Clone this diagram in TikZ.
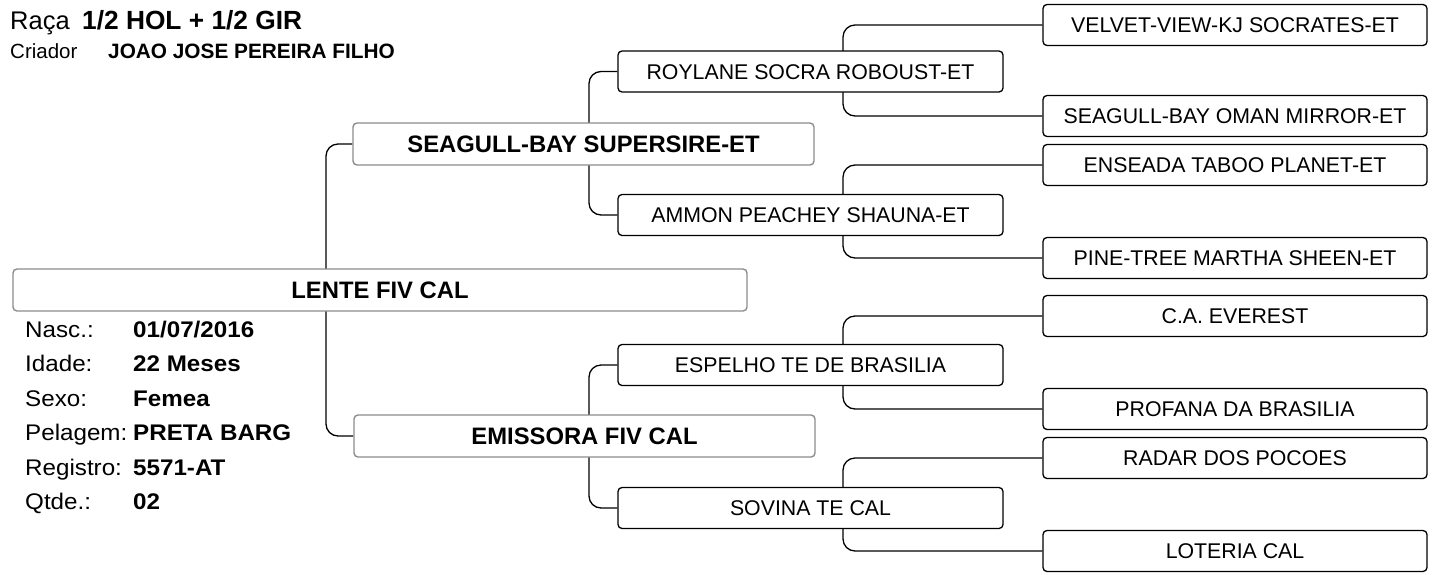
\documentclass[tikz,border=0pt]{standalone}
\usepackage{fontspec}
\setmainfont{Liberation Sans}
\newfontfamily\infofont{Liberation Sans}[FakeStretch=1.07]
\usetikzlibrary{backgrounds}
\definecolor{pgray}{RGB}{140,140,140}
\tikzset{
  conn/.style={draw=black, line width=1.3pt, rounded corners=12pt},
  gbox/.style={draw=black, fill=white, line width=1.3pt, rounded corners=4pt,
    minimum width=385pt, minimum height=41pt, inner sep=0pt,
    text height=15pt, text depth=0pt, font=\fontsize{21.3}{24}\selectfont},
  pbox/.style={draw=pgray, fill=white, line width=1.4pt, rounded corners=4pt,
    minimum height=42pt, inner sep=0pt, text height=17pt, text depth=0pt,
    font=\fontsize{23.8}{26}\selectfont\bfseries},
  lbl/.style={anchor=base west, inner sep=0pt, font=\infofont\fontsize{22.6}{24}\selectfont},
  val/.style={anchor=base west, inner sep=0pt, font=\infofont\fontsize{22.6}{24}\selectfont\bfseries},
}
\begin{document}
\begin{tikzpicture}[x=1pt,y=-1pt]
\useasboundingbox (0,0) rectangle (1434,574);
\coordinate (x1) at (326,0);
\coordinate (x2) at (589,0);
\coordinate (x3) at (843,0);
% header
\node[anchor=base west, inner sep=0pt, font=\fontsize{25.5}{28}\selectfont] (raca) at (10,29) {Raça};
\node[anchor=base west, inner sep=0pt, font=\fontsize{26.3}{28}\selectfont\bfseries] (racav) at (82,29) {1/2 HOL + 1/2 GIR};
\node[anchor=base west, inner sep=0pt, font=\fontsize{20.5}{24}\selectfont] (criador) at (10,58) {Criador};
\node[anchor=base west, inner sep=0pt, font=\fontsize{20.8}{24}\selectfont\bfseries] (criadorv) at (108,58) {JOAO JOSE PEREIRA FILHO};
% info
\node[lbl] (l1) at (25,337) {Nasc.:};
\node[val] (v1) at (133,337) {01/07/2016};
\node[lbl] (l2) at (25,371.5) {Idade:};
\node[val] (v2) at (133,371.5) {22 Meses};
\node[lbl] (l3) at (25,406) {Sexo:};
\node[val] (v3) at (133,406) {Femea};
\node[lbl] (l4) at (25,440.5) {Pelagem:};
\node[val] (v4) at (133,440.5) {PRETA BARG};
\node[lbl] (l5) at (25,475) {Registro:};
\node[val] (v5) at (133,475) {5571-AT};
\node[lbl] (l6) at (25,509.5) {Qtde.:};
\node[val] (v6) at (133,509.5) {02};
% boxes
\node[pbox, minimum width=734pt] (lente) at (380,290) {LENTE FIV CAL};
\node[pbox, minimum width=461pt] (sire) at (583.5,144) {SEAGULL-BAY SUPERSIRE-ET};
\node[pbox, minimum width=461pt] (dam) at (584.5,436) {EMISSORA FIV CAL};
\node[gbox] (roy) at (810.5,71.5) {ROYLANE SOCRA ROBOUST-ET};
\node[gbox] (amm) at (810.5,215) {AMMON PEACHEY SHAUNA-ET};
\node[gbox] (esp) at (810.5,365) {ESPELHO TE DE BRASILIA};
\node[gbox] (sov) at (810.5,508) {SOVINA TE CAL};
\node[gbox, minimum width=384pt] (vel) at (1235,25) {VELVET-VIEW-KJ SOCRATES-ET};
\node[gbox, minimum width=384pt] (oma) at (1235,116) {SEAGULL-BAY OMAN MIRROR-ET};
\node[gbox, minimum width=384pt] (ens) at (1235,165) {ENSEADA TABOO PLANET-ET};
\node[gbox, minimum width=384pt] (pin) at (1235,258) {PINE-TREE MARTHA SHEEN-ET};
\node[gbox, minimum width=384pt] (eve) at (1235,316) {C.A. EVEREST};
\node[gbox, minimum width=384pt] (pro) at (1235,409) {PROFANA DA BRASILIA};
\node[gbox, minimum width=384pt] (rad) at (1235,458) {RADAR DOS POCOES};
\node[gbox, minimum width=384pt] (lot) at (1235,551) {LOTERIA CAL};
% connectors (behind boxes)
\begin{scope}[on background layer]
\draw[conn] (sire.west) -- (sire.west -| x1) -- (dam.west -| x1) -- (dam.west);
\draw[conn] (roy.west) -- (roy.west -| x2) -- (amm.west -| x2) -- (amm.west);
\draw[conn] (esp.west) -- (esp.west -| x2) -- (sov.west -| x2) -- (sov.west);
\draw[conn] (vel.west) -- (vel.west -| x3) -- (oma.west -| x3) -- (oma.west);
\draw[conn] (ens.west) -- (ens.west -| x3) -- (pin.west -| x3) -- (pin.west);
\draw[conn] (eve.west) -- (eve.west -| x3) -- (pro.west -| x3) -- (pro.west);
\draw[conn] (rad.west) -- (rad.west -| x3) -- (lot.west -| x3) -- (lot.west);
\end{scope}
\end{tikzpicture}
\end{document}
